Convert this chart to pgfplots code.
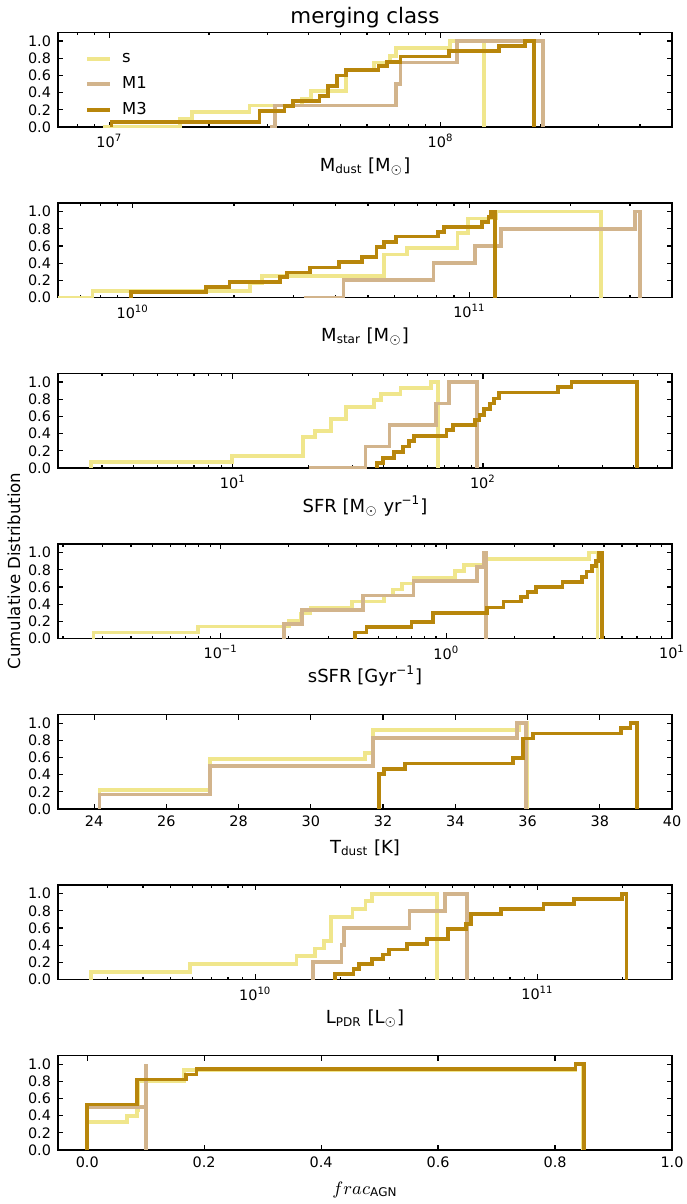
\documentclass[border=0pt]{standalone}
\usepackage{pgfplots}
\pgfplotsset{compat=1.18}
\usepackage{fontspec}
\setmainfont{DejaVu Sans}
\definecolor{cS}{HTML}{F0E68C}
\definecolor{cMa}{HTML}{D2B48C}
\definecolor{cMc}{HTML}{B8860B}
\pgfplotsset{
  panel/.style={
    scale only axis, width=307pt, height=47.25pt,
    anchor=north west,
    ymin=0, ymax=1.1,
    ytick={0,0.2,0.4,0.6,0.8,1.0},
    yticklabels={0.0,0.2,0.4,0.6,0.8,1.0},
    axis line style={line width=0.9pt, black},
    every tick/.style={line width=0.6pt, black},
    major tick length=2.6pt, minor tick length=1.4pt,
    tick label style={font=\fontsize{7.2}{8}\selectfont},
    every axis x label/.style={at={(axis description cs:0.5,0)}, anchor=base, yshift=-22pt, font=\fontsize{9}{10}\selectfont},
  },
  sS/.style={const plot, no marks, line width=1.9pt, color=cS, line join=miter},
  sA/.style={const plot, no marks, line width=1.9pt, color=cMa, line join=miter},
  sC/.style={const plot, no marks, line width=1.9pt, color=cMc, line join=miter},
}
\begin{document}
\begin{tikzpicture}
\useasboundingbox (0,0) rectangle (343pt,-602pt);
\node[anchor=base, font=\fontsize{10.7}{12}\selectfont] at (182.5pt,-12pt) {merging class};
\node[rotate=90, font=\fontsize{8.3}{10}\selectfont] at (7pt,-285.5pt) {Cumulative Distribution};

% Panel 1: M_dust
\begin{axis}[panel, at={(29pt,-16.25pt)}, xmode=log, xmin=7e6, xmax=5e8,
  xtick={1e7,1e8}, xticklabels={10\textsuperscript{7},10\textsuperscript{8}},
  minor xtick={8e6,9e6,2e7,3e7,4e7,5e7,6e7,7e7,8e7,9e7,2e8,3e8,4e8},
  xlabel={M$_{\mathrm{dust}}$ [M$_\odot$]},
  legend style={draw=none, fill=none, anchor=north west, at={(axis description cs:0.034,0.87)}, font=\fontsize{8.2}{9}\selectfont, row sep=1.6pt, cells={anchor=west}},
  legend image code/.code={\draw[#1] (0pt,0pt) -- (11.5pt,0pt);},
]
\addplot[sS] coordinates {(9.55e6,0) (1.63e7,0.09) (1.78e7,0.17) (2.65e7,0.25) (3.82e7,0.33) (4.06e7,0.42) (5.17e7,0.67) (6.31e7,0.75) (7.02e7,0.83) (7.34e7,0.92) (1.07e8,1.0) (1.35e8,1.0) (1.35e8,0)};
\addlegendentry{\hspace{3pt}s}
\addplot[sA] coordinates {(3.05e7,0) (3.16e7,0.25) (7.34e7,0.5) (7.57e7,0.75) (1.12e8,1.0) (2.04e8,1.0) (2.04e8,0)};
\addlegendentry{\hspace{3pt}M1}
\addplot[sC] coordinates {(1.015e7,0) (1.015e7,0.06) (2.84e7,0.19) (3.38e7,0.24) (3.59e7,0.30) (4.31e7,0.36) (4.58e7,0.48) (4.87e7,0.60) (5.17e7,0.66) (6.5e7,0.71) (6.91e7,0.76) (7.57e7,0.82) (1.06e8,0.88) (1.5e8,0.94) (1.8e8,1.0) (1.91e8,1.0) (1.91e8,0)};
\addlegendentry{\hspace{3pt}M3}
\end{axis}

% Panel 2: M_star
\begin{axis}[panel, at={(29pt,-101.5pt)}, xmode=log, xmin=6e9, xmax=4e11,
  xtick={1e10,1e11}, xticklabels={10\textsuperscript{10},10\textsuperscript{11}},
  minor xtick={7e9,8e9,9e9,2e10,3e10,4e10,5e10,6e10,7e10,8e10,9e10,2e11,3e11},
  xlabel={M$_{\mathrm{star}}$ [M$_\odot$]},
]
\addplot[sS] coordinates {(6.0e9,0) (7.6e9,0.08) (2.23e10,0.17) (2.42e10,0.25) (5.58e10,0.5) (6.53e10,0.58) (9.22e10,0.75) (9.93e10,0.92) (1.2e11,1.0) (2.46e11,1.0) (2.46e11,0)};
\addplot[sA] coordinates {(3.23e10,0) (4.23e10,0.2) (7.82e10,0.4) (1.04e11,0.6) (1.24e11,0.8) (3.10e11,1.0) (3.21e11,1.0) (3.21e11,0)};
\addplot[sC] coordinates {(9.9e9,0) (9.9e9,0.06) (1.65e10,0.12) (1.94e10,0.18) (2.74e10,0.24) (2.87e10,0.29) (3.36e10,0.35) (4.10e10,0.41) (4.81e10,0.47) (5.30e10,0.59) (5.58e10,0.65) (6.06e10,0.71) (8.05e10,0.76) (8.42e10,0.82) (1.09e11,0.88) (1.14e11,0.94) (1.16e11,1.0) (1.19e11,1.0) (1.19e11,0)};
\end{axis}

% Panel 3: SFR
\begin{axis}[panel, at={(29pt,-186.75pt)}, xmode=log, xmin=2, xmax=570,
  xtick={10,100}, xticklabels={10\textsuperscript{1},10\textsuperscript{2}},
  minor xtick={3,4,5,6,7,8,9,20,30,40,50,60,70,80,90,200,300,400,500},
  xlabel={SFR [M$_\odot$ yr\textsuperscript{−1}]},
]
\addplot[sS] coordinates {(2.71,0) (2.71,0.07) (9.92,0.14) (19.1,0.36) (21.3,0.43) (24.6,0.57) (28.3,0.71) (36.8,0.79) (39.1,0.86) (46.8,0.93) (62.1,1.0) (65.9,1.0) (65.9,0)};
\addplot[sA] coordinates {(20.1,0) (33.9,0.25) (42.3,0.5) (64.7,0.75) (73.0,1.0) (94.8,1.0) (94.8,0)};
\addplot[sC] coordinates {(37.8,0) (37.8,0.06) (39.9,0.12) (44.1,0.19) (47.8,0.25) (50.8,0.31) (52.9,0.37) (71.5,0.44) (76.0,0.5) (92.9,0.56) (96.8,0.62) (100.7,0.69) (107,0.75) (111,0.81) (116,0.88) (200,0.94) (226,1.0) (413,1.0) (413,0)};
\end{axis}

% Panel 4: sSFR
\begin{axis}[panel, at={(29pt,-272pt)}, xmode=log, xmin=0.019, xmax=10,
  xtick={0.1,1,10}, xticklabels={10\textsuperscript{−1},10\textsuperscript{0},10\textsuperscript{1}},
  minor xtick={0.02,0.03,0.04,0.05,0.06,0.07,0.08,0.09,0.2,0.3,0.4,0.5,0.6,0.7,0.8,0.9,2,3,4,5,6,7,8,9},
  xlabel={sSFR [Gyr\textsuperscript{−1}]},
]
\addplot[sS] coordinates {(0.0273,0) (0.0273,0.07) (0.0793,0.14) (0.200,0.21) (0.227,0.29) (0.250,0.36) (0.383,0.43) (0.530,0.5) (0.579,0.57) (0.634,0.64) (0.715,0.71) (1.09,0.79) (1.20,0.86) (1.46,0.93) (4.28,1.0) (4.68,1.0) (4.68,0)};
\addplot[sA] coordinates {(0.190,0) (0.190,0.17) (0.229,0.33) (0.428,0.5) (0.715,0.67) (1.37,0.83) (1.46,1.0) (1.50,1.0) (1.50,0)};
\addplot[sC] coordinates {(0.394,0) (0.394,0.07) (0.443,0.13) (0.700,0.19) (0.875,0.30) (1.52,0.36) (1.79,0.43) (2.14,0.48) (2.29,0.54) (2.50,0.60) (3.27,0.66) (4.00,0.72) (4.18,0.78) (4.41,0.84) (4.61,0.90) (4.72,1.0) (4.89,1.0) (4.89,0)};
\end{axis}

% Panel 5: T_dust
\begin{axis}[panel, at={(29pt,-357.25pt)}, xmin=23, xmax=40,
  xtick={24,26,28,30,32,34,36,38,40}, xticklabels={24,26,28,30,32,34,36,38,40},
  xlabel={T$_{\mathrm{dust}}$ [K]},
]
\addplot[sS] coordinates {(24.15,0) (24.15,0.22) (27.21,0.58) (31.51,0.65) (31.72,0.92) (35.76,1.0) (36.0,1.0) (36.0,0)};
\addplot[sA] coordinates {(24.15,0) (24.15,0.17) (27.21,0.5) (31.72,0.83) (35.70,1.0) (35.95,1.0) (35.95,0)};
\addplot[sC] coordinates {(31.88,0) (31.88,0.41) (32.03,0.47) (32.6,0.53) (35.6,0.59) (35.88,0.82) (36.16,0.88) (38.58,0.94) (38.85,1.0) (39.03,1.0) (39.03,0)};
\end{axis}

% Panel 6: L_PDR
\begin{axis}[panel, at={(29pt,-442.5pt)}, xmode=log, xmin=2e9, xmax=3e11,
  xtick={1e10,1e11}, xticklabels={10\textsuperscript{10},10\textsuperscript{11}},
  minor xtick={3e9,4e9,5e9,6e9,7e9,8e9,9e9,2e10,3e10,4e10,5e10,6e10,7e10,8e10,9e10,2e11},
  xlabel={L$_{\mathrm{PDR}}$ [L$_\odot$]},
]
\addplot[sS] coordinates {(2.61e9,0) (2.61e9,0.09) (5.89e9,0.18) (1.40e10,0.27) (1.63e10,0.36) (1.75e10,0.45) (1.85e10,0.73) (2.21e10,0.82) (2.46e10,0.91) (2.60e10,1.0) (4.41e10,1.0) (4.41e10,0)};
\addplot[sA] coordinates {(1.60e10,0) (1.60e10,0.2) (2.02e10,0.4) (2.06e10,0.6) (3.52e10,0.8) (4.69e10,1.0) (5.64e10,1.0) (5.64e10,0)};
\addplot[sC] coordinates {(1.92e10,0) (1.92e10,0.06) (2.23e10,0.12) (2.33e10,0.18) (2.60e10,0.24) (2.84e10,0.29) (2.97e10,0.35) (3.46e10,0.41) (4.06e10,0.47) (4.82e10,0.59) (5.60e10,0.65) (5.81e10,0.76) (7.45e10,0.82) (1.05e11,0.88) (1.35e11,0.94) (1.99e11,1.0) (2.07e11,1.0) (2.07e11,0)};
\end{axis}

% Panel 7: frac_AGN
\begin{axis}[panel, at={(29pt,-527.75pt)}, xmin=-0.05, xmax=1.0,
  xtick={0,0.2,0.4,0.6,0.8,1.0}, xticklabels={0.0,0.2,0.4,0.6,0.8,1.0},
  xlabel={$frac_{\mathrm{AGN}}$},
]
\addplot[sS] coordinates {(0,0) (0,0.33) (0.068,0.4) (0.085,0.47) (0.087,0.8) (0.165,0.93) (0.835,1.0) (0.847,1.0) (0.847,0)};
\addplot[sA] coordinates {(0,0) (0,0.5) (0.1,1.0) (0.1,0)};
\addplot[sC] coordinates {(0,0) (0,0.53) (0.085,0.82) (0.169,0.88) (0.187,0.94) (0.835,1.0) (0.850,1.0) (0.850,0)};
\end{axis}
\end{tikzpicture}
\end{document}
